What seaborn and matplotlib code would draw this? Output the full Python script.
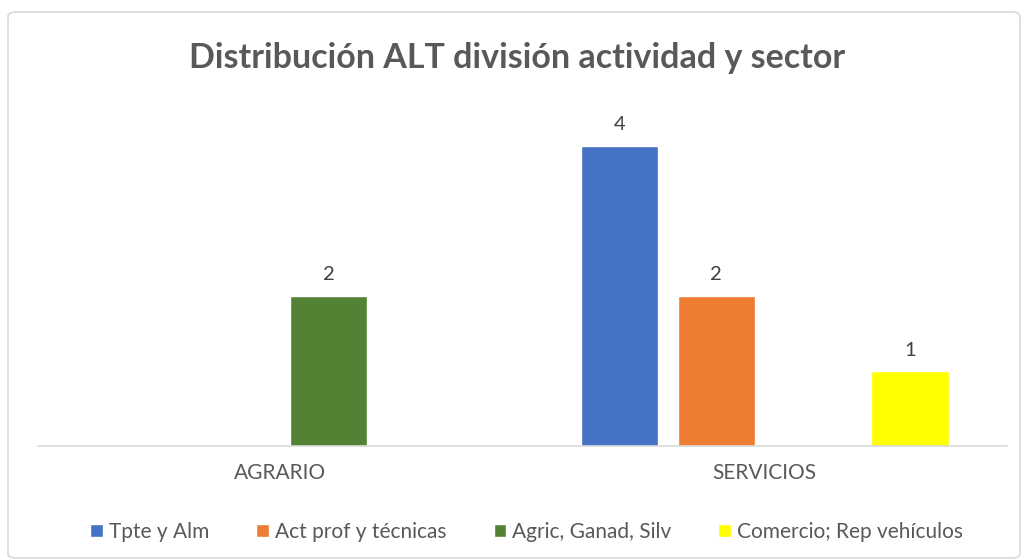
import pandas as pd
import matplotlib.pyplot as plt
import seaborn as sns
from matplotlib.patches import FancyBboxPatch, Patch

# Datos
sectores = ["AGRARIO", "SERVICIOS"]
series = ["Tpte y Alm", "Act prof y técnicas", "Agric, Ganad, Silv", "Comercio; Rep vehículos"]
colores = ["#4472C4", "#ED7D31", "#548235", "#FFFF00"]
sector_col = ["AGRARIO", "SERVICIOS", "SERVICIOS", "SERVICIOS"]
serie_col = ["Agric, Ganad, Silv", "Tpte y Alm", "Act prof y técnicas", "Comercio; Rep vehículos"]
valores = [2, 4, 2, 1]

data = pd.DataFrame({"Sector": sector_col, "Serie": serie_col, "Valor": valores})

sns.set_style("white")
plt.rcParams['font.family'] = ['Lato', 'DejaVu Sans']

fig = plt.figure(figsize=(10.27, 5.6), dpi=100)
ax = fig.add_axes([38 / 1027, 114 / 560, 969 / 1027, 375 / 560])

sns.barplot(data=data, x="Sector", y="Valor", hue="Serie", order=sectores,
            hue_order=series, palette=colores, width=0.8, gap=0.2,
            saturation=1, legend=False, ax=ax)

for c in ax.containers:
    ax.bar_label(c, padding=9, fontsize=14.5, color="#404040")

ax.set_xlim(-0.5, 1.5)
ax.set_ylim(0, 5)
ax.set_xlabel("")
ax.set_ylabel("")
ax.set_yticks([])
ax.tick_params(axis="x", length=0, labelsize=15, labelcolor="#595959", pad=12)
for s in ["top", "left", "right"]:
    ax.spines[s].set_visible(False)
ax.spines["bottom"].set_color("#D9D9D9")
ax.spines["bottom"].set_linewidth(1.2)

fig.text(0.503, 0.897, "Distribución ALT división actividad y sector", ha="center",
         va="center", fontsize=24.5, fontweight="bold", color="#595959")

handles = [Patch(facecolor=col, label=lab) for col, lab in zip(colores, series)]
fig.legend(handles=handles, loc="center", bbox_to_anchor=(0.513, 0.05), ncol=4,
           frameon=False, fontsize=15, handlelength=0.6, handleheight=0.6,
           handletextpad=0.3, columnspacing=2.25, labelcolor="#595959")

border = FancyBboxPatch((8 / 1027, 2 / 560), 1012 / 1027, 546 / 560,
                        boxstyle="round,pad=0,rounding_size=0.008",
                        transform=fig.transFigure, facecolor="none",
                        edgecolor="#D9D9D9", linewidth=1.2)
fig.patches.append(border)

plt.savefig("out.png", dpi=100)
